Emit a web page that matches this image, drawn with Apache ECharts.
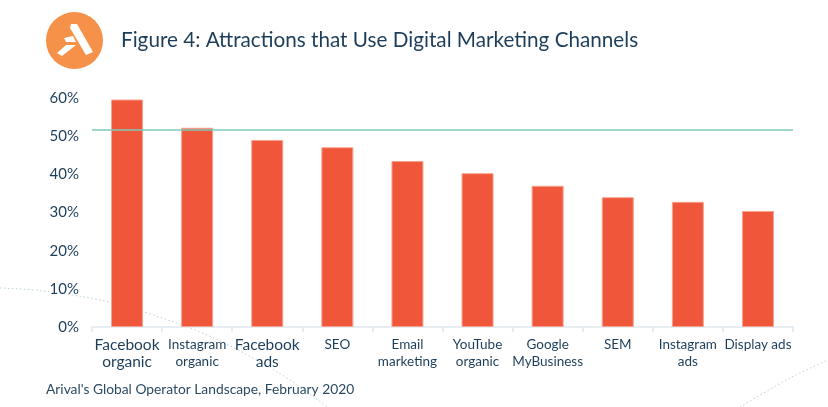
<!DOCTYPE html>
<html><head><meta charset="utf-8">
<script src="https://cdn.jsdelivr.net/npm/echarts@6/dist/echarts.min.js"></script>
<style>html,body{margin:0;padding:0;background:#fff}#c{width:828px;height:407px}</style>
</head><body><div id="c"></div>
<script>
var categories = ['Facebook\norganic','Instagram\norganic','Facebook\nads','SEO','Email\nmarketing','YouTube\norganic','Google\nMyBusiness','SEM','Instagram\nads','Display ads'];
var values = [59.6, 52.2, 49.0, 47.1, 43.5, 40.3, 37.0, 34.0, 32.8, 30.4];
var referenceLine = 51.6;
var yTicks = [0, 10, 20, 30, 40, 50, 60];
var titleText = 'Figure 4: Attractions that Use Digital Marketing Channels';
var sourceText = "Arival's Global Operator Landscape, February 2020";

var navy = '#1d3e5a';
var chart = echarts.init(document.getElementById('c'));
chart.setOption({
  animation: false,
  backgroundColor: '#fff',
  textStyle: { fontFamily: 'Lato' },
  grid: { left: 92, right: 35, top: 98, bottom: 80, containLabel: false },
  xAxis: {
    type: 'category',
    data: categories,
    axisLine: { lineStyle: { color: '#dfe8eb', width: 1.5 } },
    axisTick: { show: true, length: 5, lineStyle: { color: '#dfe8eb', width: 1.5 } },
    axisLabel: {
      interval: 0, margin: 9, color: navy, fontSize: 13.5, lineHeight: 17, fontFamily: 'Lato',
      formatter: function (v) {
        if (v.indexOf('Facebook') === 0) {
          return v.split('\n').map(function (s) { return '{big|' + s + '}'; }).join('\n');
        }
        return v;
      },
      rich: { big: { fontSize: 15.5, lineHeight: 17, color: navy, fontFamily: 'Lato' } }
    }
  },
  yAxis: {
    type: 'value', min: yTicks[0], max: yTicks[yTicks.length - 1], interval: 10,
    axisLine: { show: false }, axisTick: { show: false }, splitLine: { show: false },
    axisLabel: { formatter: '{value}%', color: navy, fontSize: 15, margin: 13, fontFamily: 'Lato' }
  },
  series: [{
    type: 'bar',
    data: values,
    barWidth: 32,
    itemStyle: { color: '#f05639', borderColor: '#f7a18f', borderWidth: 1 },
    markLine: {
      silent: true, symbol: 'none',
      label: { show: false },
      lineStyle: { color: '#7fcbb8', width: 1.5, type: 'solid' },
      data: [{ yAxis: referenceLine }]
    }
  }],
  graphic: [
    { type: 'polyline', z: -1, shape: { points: [[0,288],[43,291],[110,302],[150,314],[200,332],[240,351],[290,380],[327,407]], smooth: 0.4 },
      style: { stroke: '#bcd3dc', lineWidth: 1, lineDash: [1.5, 2.5], fill: null } },
    { type: 'polyline', z: -1, shape: { points: [[740,407],[790,378],[828,360]], smooth: 0.3 },
      style: { stroke: '#bcd3dc', lineWidth: 1, lineDash: [1.5, 2.5], fill: null } },
    { type: 'circle', shape: { cx: 74.5, cy: 40.5, r: 28.5 }, style: { fill: '#f6914a' } },
    { type: 'polygon', shape: { points: [[71,24],[77,24],[93,52],[86,55],[73,33],[70,28]] }, style: { fill: '#fff' } },
    { type: 'polygon', shape: { points: [[64,38],[73,36],[76,42],[66,42]] }, style: { fill: '#fff' } },
    { type: 'polygon', shape: { points: [[57,53],[66,45],[76,45],[62,56]] }, style: { fill: '#fff' } },
    { type: 'text', left: 121, top: 30, style: { text: titleText, fill: navy, font: '20.7px Lato' } },
    { type: 'text', left: 46, top: 383, style: { text: sourceText, fill: '#2b4a62', font: '13.8px Lato' } }
  ]
});
</script></body></html>
